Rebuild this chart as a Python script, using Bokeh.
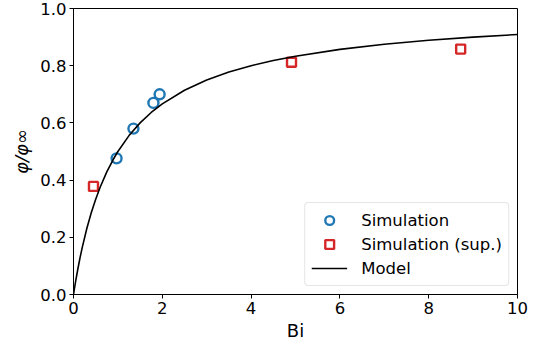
from bokeh.plotting import figure
from bokeh.embed import file_html
from bokeh.resources import INLINE
from bokeh.models import Range1d, Legend, LegendItem

# Data
sim_bi = [0.97, 1.35, 1.80, 1.94]
sim_phi = [0.476, 0.58, 0.67, 0.70]
sup_bi = [0.45, 4.91, 8.72]
sup_phi = [0.378, 0.812, 0.858]
model_bi = [0.0, 0.02, 0.05, 0.1, 0.15, 0.2, 0.3, 0.4, 0.5, 0.6, 0.75, 0.9, 1.0, 1.25, 1.5,
            1.75, 2.0, 2.5, 3.0, 3.5, 4.0, 4.5, 5.0, 6.0, 7.0, 8.0, 9.0, 10.0]
model_phi = [0.0, 0.0196, 0.0476, 0.0909, 0.1304, 0.1667, 0.2308, 0.2857, 0.3333, 0.375,
             0.4286, 0.4737, 0.5, 0.5556, 0.6, 0.6364, 0.6667, 0.7143, 0.75, 0.7778, 0.8,
             0.8182, 0.8333, 0.8571, 0.875, 0.8889, 0.9, 0.9091]
x_ticks = [0, 2, 4, 6, 8, 10]
y_ticks = [0.0, 0.2, 0.4, 0.6, 0.8, 1.0]

p = figure(width=535, height=343, output_backend="svg", toolbar_location=None,
           x_range=Range1d(0, 10), y_range=Range1d(0, 1),
           min_border_left=73, min_border_right=18, min_border_top=8, min_border_bottom=48)

p.xgrid.visible = False
p.ygrid.visible = False
p.outline_line_color = "black"
p.outline_line_width = 1

for ax in (p.xaxis[0], p.yaxis[0]):
    ax.major_label_text_font = "DejaVu Sans"
    ax.major_label_text_font_size = "16.5px"
    ax.major_label_text_color = "black"
    ax.axis_label_text_font = "DejaVu Sans"
    ax.axis_label_text_font_size = "18px"
    ax.axis_label_text_font_style = "normal"
    ax.axis_label_text_color = "black"
    ax.minor_tick_line_color = None
    ax.major_tick_out = 4
    ax.major_tick_in = 0
    ax.major_label_standoff = 3
    ax.axis_line_color = "black"
    ax.major_tick_line_color = "black"

p.xaxis.ticker = x_ticks
p.yaxis.ticker = y_ticks
p.xaxis.major_label_overrides = {t: str(t) for t in x_ticks}
p.yaxis.major_label_overrides = {t: f"{t:.1f}" for t in y_ticks}
p.xaxis.axis_label = "Bi"
p.yaxis.axis_label = "φ/φ∞"
p.yaxis.axis_label_text_font_style = "italic"
p.xaxis.axis_label_standoff = 3
p.yaxis.axis_label_standoff = 5

r_sim = p.scatter(sim_bi, sim_phi, marker="circle", size=10, line_color="#1f77b4",
                  line_width=2.4, fill_color="white")
r_sup = p.scatter(sup_bi, sup_phi, marker="square", size=9, line_color="#d62728",
                  line_width=2.4, fill_color="white")
r_mod = p.line(model_bi, model_phi, line_color="black", line_width=1.6)

legend = Legend(items=[LegendItem(label="Simulation", renderers=[r_sim]),
                       LegendItem(label="Simulation (sup.)", renderers=[r_sup]),
                       LegendItem(label="Model", renderers=[r_mod])],
                location="bottom_right")
legend.label_text_font = "DejaVu Sans"
legend.label_text_font_size = "16.5px"
legend.label_text_color = "black"
legend.border_line_color = "#cccccc"
legend.border_line_width = 1
legend.border_radius = 4
legend.background_fill_alpha = 0.8
legend.glyph_width = 36
legend.glyph_height = 22
legend.label_height = 22
legend.spacing = 2
legend.padding = 6
legend.margin = 8
legend.label_standoff = 14
p.add_layout(legend)

open("out.html", "w").write(file_html(p, INLINE))
